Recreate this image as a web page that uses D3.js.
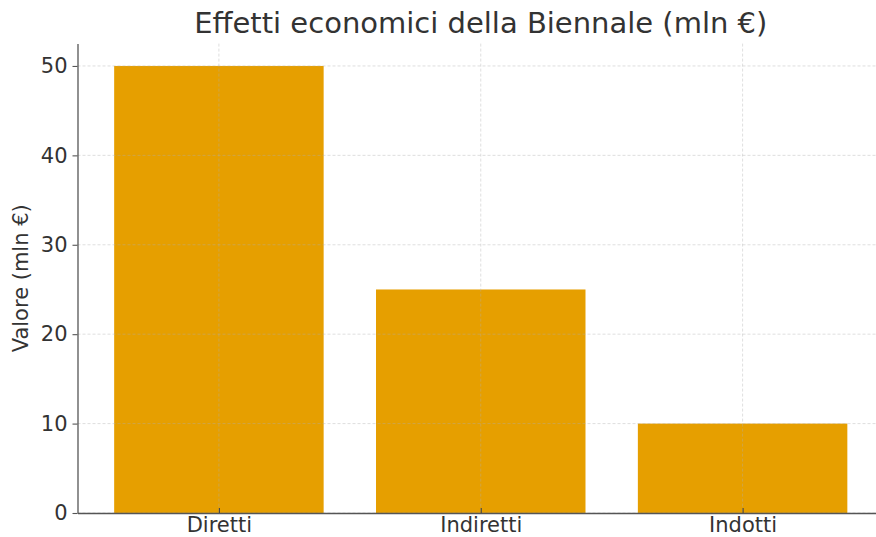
<!DOCTYPE html>
<html><head><meta charset="utf-8">
<script src="https://cdn.jsdelivr.net/npm/d3@7"></script>
<style>body{margin:0;background:#fff}svg{display:block}text{font-family:"DejaVu Sans",sans-serif}</style>
</head><body>
<svg id="c" width="876" height="537"></svg>
<script>
const categories = ["Diretti", "Indiretti", "Indotti"];
const values = [50, 25, 10];
const yTicks = [0, 10, 20, 30, 40, 50];
const chartTitle = "Effetti economici della Biennale (mln €)";
const yLabel = "Valore (mln €)";

(function () {
const svg = d3.select("#c");
const mL = 77.5, mR = 884, mT = 43.6, mB = 513;
const x = d3.scaleLinear().domain([-0.54, 2.54]).range([mL, mR]);
const y = d3.scaleLinear().domain([0, 52.5]).range([mB, mT]);
const bw = x(0.8) - x(0);

// bars
svg.append("g").selectAll("rect").data(values).join("rect")
  .attr("x", (d, i) => x(i - 0.4)).attr("width", bw)
  .attr("y", d => y(d)).attr("height", d => y(0) - y(d))
  .attr("fill", "#E69F00");

// grid (over bars)
const grid = svg.append("g").attr("stroke", "#b0b0b0").attr("stroke-opacity", 0.5)
  .attr("stroke-dasharray", "3,2").attr("stroke-width", 0.8);
yTicks.forEach(t => grid.append("line").attr("x1", mL).attr("x2", mR).attr("y1", y(t)).attr("y2", y(t)));
categories.forEach((c, i) => grid.append("line").attr("x1", x(i)).attr("x2", x(i)).attr("y1", mT).attr("y2", mB));

// y axis
const ya = svg.append("g").attr("transform", `translate(${mL},0)`)
  .call(d3.axisLeft(y).tickValues(yTicks).tickSize(5).tickPadding(5).tickSizeOuter(0));
ya.select(".domain").attr("stroke", "#555").attr("stroke-width", 1.3);
ya.selectAll(".tick line").attr("stroke", "#555").attr("stroke-width", 1.1);
ya.selectAll(".tick text").attr("font-size", 21).attr("fill", "#333").attr("font-family", "DejaVu Sans");

// x axis
const xa = svg.append("g").attr("transform", `translate(0,${mB})`)
  .call(d3.axisBottom(x).tickValues([0, 1, 2]).tickFormat(i => categories[i]).tickSize(0).tickPadding(4).tickSizeOuter(0));
xa.select(".domain").attr("stroke", "#555").attr("stroke-width", 1.3);
xa.selectAll(".tick text").attr("font-size", 21).attr("fill", "#333").attr("font-family", "DejaVu Sans");
xa.selectAll(".tick").append("line").attr("y1", 0).attr("y2", -5).attr("stroke", "#444").attr("stroke-width", 1.1);

// title
svg.append("text").attr("x", (mL + mR) / 2).attr("y", 33).attr("text-anchor", "middle")
  .attr("font-size", 29).attr("fill", "#333").text(chartTitle);

// y label
svg.append("text").attr("transform", `translate(28,${(mT + mB) / 2}) rotate(-90)`)
  .attr("text-anchor", "middle").attr("font-size", 21).attr("fill", "#333").text(yLabel);
})();
</script>
</body></html>
